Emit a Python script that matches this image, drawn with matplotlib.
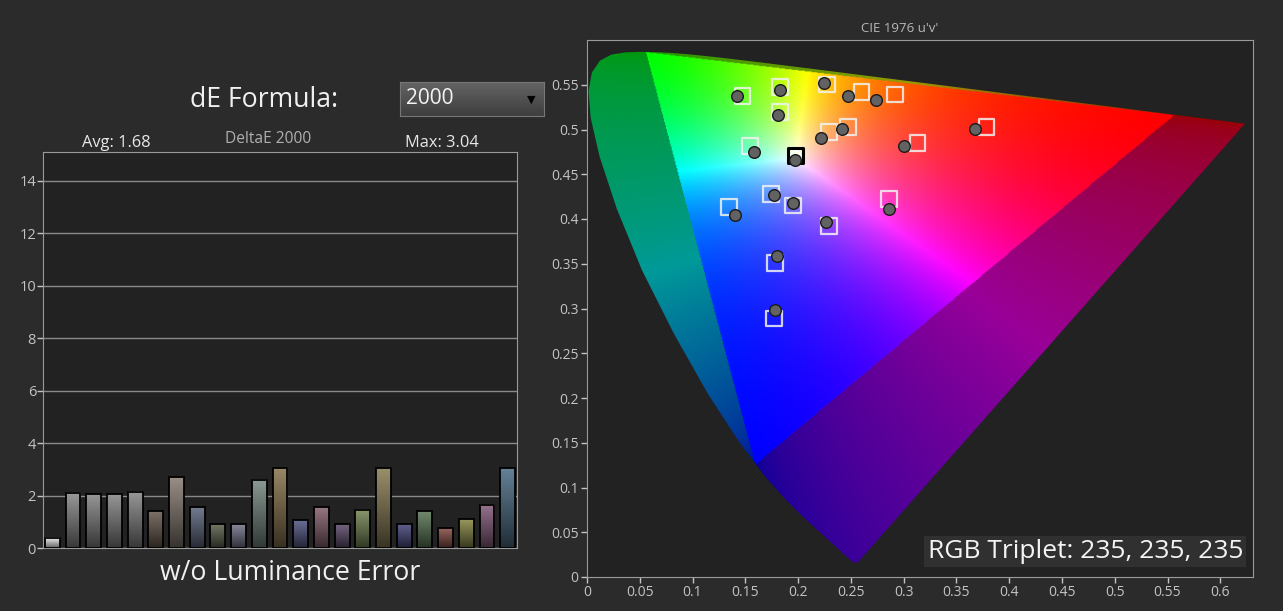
import numpy as np
import matplotlib.pyplot as plt
from matplotlib.patches import Polygon
from matplotlib.colors import to_rgb

plt.rcParams['font.family'] = ['Open Sans', 'DejaVu Sans']

# ---- data ----
de_values = [0.4, 2.1, 2.05, 2.05, 2.15, 1.4, 2.7, 1.55, 0.9, 0.9, 2.6, 3.04,
             1.05, 1.55, 0.9, 1.45, 3.04, 0.9, 1.4, 0.75, 1.1, 1.65, 3.04]
bar_colors = ['#f4f4f4', '#8c8c8c', '#888888', '#888888', '#8a8a8a', '#6b5d52',
              '#8a7f76', '#5f6a80', '#5f6550', '#77778c', '#7a8c84', '#8a7650',
              '#565a86', '#8a6470', '#62506e', '#7a8a5a', '#8c8058', '#4a4a80',
              '#5e7a5a', '#8a5048', '#8a8a48', '#8a6080', '#4f7088']
avg_text = 'Avg: 1.68'
max_text = 'Max: 3.04'

# CIE 1931 spectral locus (xy), 380..700 nm
locus_x = [0.1741, 0.1740, 0.1738, 0.1736, 0.1733, 0.1730, 0.1726, 0.1721, 0.1714,
           0.1703, 0.1689, 0.1669, 0.1644, 0.1611, 0.1566, 0.1510, 0.1440, 0.1355,
           0.1241, 0.1096, 0.0913, 0.0687, 0.0454, 0.0235, 0.0082, 0.0039, 0.0139,
           0.0389, 0.0743, 0.1142, 0.1547, 0.1929, 0.2296, 0.2658, 0.3016, 0.3373,
           0.3731, 0.4087, 0.4441, 0.4788, 0.5125, 0.5448, 0.5752, 0.6029, 0.6270,
           0.6482, 0.6658, 0.6801, 0.6915, 0.7006, 0.7079, 0.7140, 0.7190, 0.7230,
           0.7260, 0.7283, 0.7300, 0.7311, 0.7320, 0.7327, 0.7334, 0.7344, 0.7347]
locus_y = [0.0050, 0.0050, 0.0049, 0.0049, 0.0048, 0.0048, 0.0048, 0.0048, 0.0051,
           0.0058, 0.0069, 0.0086, 0.0109, 0.0138, 0.0177, 0.0227, 0.0297, 0.0399,
           0.0578, 0.0868, 0.1327, 0.2007, 0.2950, 0.4127, 0.5384, 0.6548, 0.7502,
           0.8120, 0.8338, 0.8262, 0.8059, 0.7816, 0.7543, 0.7243, 0.6923, 0.6589,
           0.6245, 0.5896, 0.5547, 0.5202, 0.4866, 0.4544, 0.4242, 0.3965, 0.3725,
           0.3514, 0.3340, 0.3197, 0.3083, 0.2993, 0.2920, 0.2859, 0.2809, 0.2770,
           0.2740, 0.2717, 0.2700, 0.2689, 0.2680, 0.2673, 0.2666, 0.2656, 0.2653]
# Rec.2020 primaries, u'v' (R, G, B)
prim_u = [0.5566, 0.0556, 0.1593]
prim_v = [0.5165, 0.5868, 0.1258]

# targets (squares) and measured (circles), u'v'
target_u = [0.1474, 0.1828, 0.2270, 0.2601, 0.2917, 0.1828, 0.2292, 0.2469, 0.1544,
            0.1979, 0.3132, 0.3785, 0.1742, 0.1948, 0.1348, 0.2863, 0.2292, 0.1783, 0.1771]
target_v = [0.5373, 0.5473, 0.5503, 0.5422, 0.5391, 0.5194, 0.4970, 0.5026, 0.4813,
            0.4713, 0.4847, 0.5026, 0.4281, 0.4150, 0.4131, 0.4228, 0.3918, 0.3505, 0.2889]
meas_u = [0.1418, 0.1825, 0.2247, 0.2469, 0.2734, 0.1812, 0.2216, 0.2415, 0.1581,
          0.1970, 0.3005, 0.3677, 0.1768, 0.1948, 0.1404, 0.2863, 0.2263, 0.1796, 0.1783]
meas_v = [0.5373, 0.5436, 0.5522, 0.5373, 0.5328, 0.5157, 0.4907, 0.5008, 0.4746,
          0.4664, 0.4813, 0.5008, 0.4265, 0.4180, 0.4046, 0.4113, 0.3963, 0.3583, 0.2987]
white_idx = 9

BG = '#2b2b2b'
AX_BG = '#222222'
TXT = '#c4c4c4'
SPINE = '#9a9a9a'

fig = plt.figure(figsize=(12.83, 6.11), dpi=100, facecolor=BG)

# ---- left: deltaE bars ----
ax = fig.add_axes([43/1283, 63/611, 474/1283, 396/611], facecolor=AX_BG)
w = 0.72
for i, (val, col) in enumerate(zip(de_values, bar_colors)):
    base = np.array(to_rgb(col))
    top = base + (1 - base) * 0.12
    bot = base * 0.4
    grad = np.linspace(bot, top, 60)[:, None, :]
    ax.imshow(grad, extent=[i - w/2, i + w/2, 0, val], origin='lower',
              aspect='auto', zorder=2, interpolation='bilinear')
ax.bar(range(len(de_values)), de_values, w, fill=False, edgecolor='black',
       linewidth=1.3, zorder=3)
ax.set_xlim(-0.45, len(de_values) - 0.55)
ax.set_ylim(0, 15.1)
ax.set_yticks(range(0, 15, 2))
ax.set_xticks([])
ax.yaxis.grid(True, color='#8a8a8a', linewidth=1)
ax.set_axisbelow(True)
for s in ax.spines.values():
    s.set_color(SPINE)
ax.tick_params(axis='y', colors=TXT, labelsize=10.5, length=4, width=1, pad=1)
ax.text(0.154, 1.003, avg_text, transform=ax.transAxes, ha='center', va='bottom',
        color='#e8e8e8', fontsize=11.8)
ax.text(0.474, 1.012, 'DeltaE 2000', transform=ax.transAxes, ha='center', va='bottom',
        color='#b0b0b0', fontsize=11.2)
ax.text(0.842, 1.003, max_text, transform=ax.transAxes, ha='center', va='bottom',
        color='#e8e8e8', fontsize=11.8)
fig.text(290/1283, 1 - 573/611, 'w/o Luminance Error', ha='center', va='center',
         color='#f0f0f0', fontsize=19.2)

# dE formula label and dropdown
fig.text(264/1283, 1 - 100/611, 'dE Formula:', ha='center', va='center',
         color='#f0f0f0', fontsize=19.2)
dd = fig.add_axes([400/1283, 1 - 116/611, 144/1283, 34/611])
dgrad = np.linspace(to_rgb('#3e3e3e'), to_rgb('#646464'), 40)[:, None, :]
dd.imshow(dgrad, extent=[0, 1, 0, 1], origin='lower', aspect='auto')
dd.set_xlim(0, 1)
dd.set_ylim(0, 1)
dd.set_xticks([])
dd.set_yticks([])
for s in dd.spines.values():
    s.set_color('#777777')
dd.text(0.04, 0.5, '2000', ha='left', va='center', color='#f4f4f4', fontsize=15)
dd.text(0.91, 0.47, '\u25bc', ha='center', va='center', color='black', fontsize=8,
        family='DejaVu Sans')

# ---- right: CIE 1976 u'v' ----
cx = fig.add_axes([587/1283, 34/611, 666/1283, 537/611], facecolor=AX_BG)
lx = np.array(locus_x)
ly = np.array(locus_y)
d = -2 * lx + 12 * ly + 3
lu = 4 * lx / d
lv = 9 * ly / d

uu, vv = np.meshgrid(np.linspace(0, 0.631, 700), np.linspace(0.0005, 0.6, 700))
den = 6 * uu - 16 * vv + 12
xx = 9 * uu / den
yy = 4 * vv / den
X = xx / yy
Z = (1 - xx - yy) / yy
M = np.array([[1.7166512, -0.3556708, -0.2533663],
              [-0.6666844, 1.6164812, 0.0157685],
              [0.0176399, -0.0427706, 0.9421031]])
xyz = np.stack([X, np.ones_like(X), Z], axis=-1)
rgb = xyz @ M.T
outside = (rgb < 0).any(axis=-1)
rgb = np.clip(rgb, 0, None)
rgb = rgb / rgb.max(axis=-1, keepdims=True)
rgb = rgb ** 1.3

# outside the triangle: barycentric weights in u'v', clipped, darkened
T = np.array([prim_u, prim_v, [1, 1, 1]])
pts = np.stack([uu, vv, np.ones_like(uu)], axis=-1)
bary = pts @ np.linalg.inv(T).T
bary = np.clip(bary, 0, None)
bary = bary / bary.max(axis=-1, keepdims=True)
bary = bary ** (1 / 2.2)
rgb[outside] = bary[outside] * 0.6

poly = Polygon(np.column_stack([lu, lv]), closed=True, facecolor='none',
               edgecolor='none')
cx.add_patch(poly)
im = cx.imshow(rgb, extent=[0, 0.631, 0, 0.6], origin='lower', aspect='auto',
               interpolation='bilinear', zorder=1)
im.set_clip_path(poly)

tu = np.array(target_u)
tv = np.array(target_v)
mu = np.array(meas_u)
mv = np.array(meas_v)
keep = np.arange(len(tu)) != white_idx
cx.scatter(tu[keep], tv[keep], marker='s', s=130, facecolors='none',
           edgecolors='#f2f2f2', linewidths=1.6, alpha=0.85, zorder=3)
cx.scatter([tu[white_idx]], [tv[white_idx]], marker='s', s=120, facecolors='none',
           edgecolors='black', linewidths=2.2, zorder=3)
cx.scatter([tu[white_idx]], [tv[white_idx]], marker='o', s=40, facecolors='none',
           edgecolors='white', linewidths=1.2, zorder=3)
cx.scatter(mu, mv, marker='o', s=70, facecolors='#626262', edgecolors='#1a1a1a',
           linewidths=1, zorder=4)

cx.set_xlim(0, 0.631)
cx.set_ylim(0, 0.6)
xt = np.round(np.arange(0, 0.601, 0.05), 2)
yt = np.round(np.arange(0, 0.551, 0.05), 2)
cx.set_xticks(xt)
cx.set_yticks(yt)
cx.set_xticklabels([f'{t:g}' for t in xt])
cx.set_yticklabels([f'{t:g}' for t in yt])
for s in cx.spines.values():
    s.set_color(SPINE)
cx.tick_params(colors=TXT, labelsize=10, length=4, width=1, pad=2)
fig.text(900/1283, 1 - 28/611, "CIE 1976 u'v'", ha='center', va='center',
         color='#b8b8b8', fontsize=9.5)
cx.text(0.985, 0.048, 'RGB Triplet: 235, 235, 235', transform=cx.transAxes,
        ha='right', va='center', color='#f4f4f4', fontsize=19, zorder=5,
        bbox=dict(boxstyle='square,pad=0.12', facecolor='#303030', edgecolor='none'))

fig.savefig('out.png', dpi=100, facecolor=BG)
